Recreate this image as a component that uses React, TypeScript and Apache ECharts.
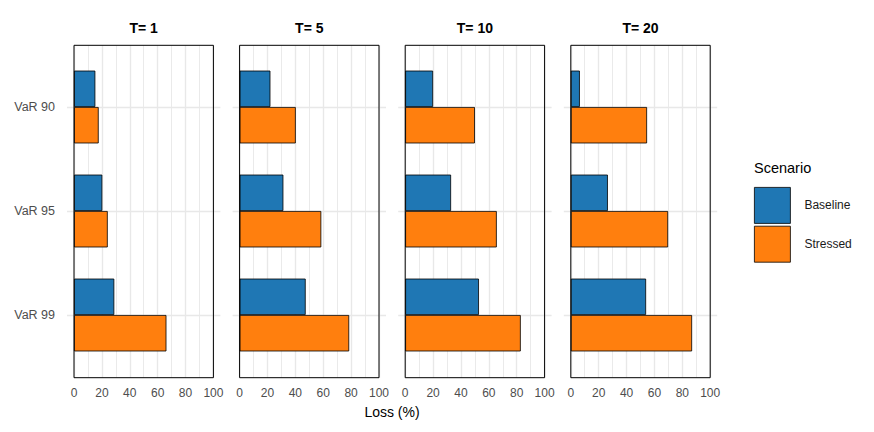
import React, { useEffect, useRef } from "react";
import * as echarts from "echarts";

const categories = ["VaR 90", "VaR 95", "VaR 99"];
const horizons = ["T= 1", "T= 5", "T= 10", "T= 20"];
const seriesNames = ["Baseline", "Stressed"];
const baselineT1 = [15.3, 20.3, 28.9];
const stressedT1 = [17.7, 24.2, 66.3];
const baselineT5 = [22.1, 31.4, 47.4];
const stressedT5 = [40.3, 58.6, 78.6];
const baselineT10 = [20.0, 32.9, 52.9];
const stressedT10 = [50.0, 65.7, 82.9];
const baselineT20 = [6.5, 26.6, 54.0];
const stressedT20 = [54.7, 69.8, 87.0];
const xTicks = [0, 20, 40, 60, 80, 100];

const baselineByPanel = [baselineT1, baselineT5, baselineT10, baselineT20];
const stressedByPanel = [stressedT1, stressedT5, stressedT10, stressedT20];

const FONT = "Liberation Sans";
const BLUE = "#1f77b4";
const ORANGE = "#ff7f0e";
const GRIDC = "#e8e8e8";

export default function App() {
  const ref = useRef<HTMLDivElement>(null);
  useEffect(() => {
    if (!ref.current) return;
    const chart = echarts.init(ref.current, undefined, { renderer: "svg" });
    const panelLeft0 = 74;
    const panelStep = 165.6;
    const panelW = 139.4;
    const outerTop = 45.3;
    const outerH = 332.4;
    const innerTop = 107;
    const innerH = 208;
    const ext = 7;
    const extUnits = (ext / panelW) * 100;

    const grids: any[] = [];
    const xAxes: any[] = [];
    const yAxes: any[] = [];
    const series: any[] = [];
    const titles: any[] = [];

    horizons.forEach((h, i) => {
      const left = panelLeft0 + i * panelStep;
      grids.push({
        left,
        top: outerTop,
        width: panelW,
        height: outerH,
        show: true,
        borderColor: "#000",
        borderWidth: 1,
        backgroundColor: "transparent",
        z: 10,
      });
      xAxes.push({
        type: "value",
        gridIndex: 2 * i,
        min: xTicks[0],
        max: xTicks[xTicks.length - 1],
        interval: 20,
        axisLine: { show: false },
        axisTick: { show: false },
        axisLabel: {
          color: "#4d4d4d",
          fontSize: 12,
          fontFamily: FONT,
          margin: 9,
          showMinLabel: true,
          showMaxLabel: true,
        },
        splitLine: { show: true, lineStyle: { color: GRIDC, width: 1.4 } },
        minorTick: { show: false, splitNumber: 2 },
        minorSplitLine: { show: true, lineStyle: { color: GRIDC, width: 0.9 } },
      });
      yAxes.push({ type: "value", gridIndex: 2 * i, show: false, min: 0, max: 1 });

      grids.push({
        left: left - ext,
        top: innerTop,
        width: panelW + 2 * ext,
        height: innerH,
        show: false,
      });
      xAxes.push({
        type: "value",
        gridIndex: 2 * i + 1,
        min: -extUnits,
        max: 100 + extUnits,
        show: false,
      });
      yAxes.push({
        type: "category",
        gridIndex: 2 * i + 1,
        data: categories,
        inverse: true,
        boundaryGap: false,
        axisLine: { show: false },
        axisTick: { show: false },
        axisLabel: {
          show: i === 0,
          color: "#4d4d4d",
          fontSize: 12.5,
          fontFamily: FONT,
          margin: 12,
          interval: 0,
        },
        splitLine: { show: true, interval: 0, lineStyle: { color: GRIDC, width: 1.4 } },
      });

      const sets = [baselineByPanel[i], stressedByPanel[i]];
      sets.forEach((vals, s) => {
        series.push({
          type: "bar",
          name: seriesNames[s],
          xAxisIndex: 2 * i + 1,
          yAxisIndex: 2 * i + 1,
          data: vals,
          barWidth: "35%",
          barGap: "0%",
          clip: false,
          itemStyle: {
            color: s === 0 ? BLUE : ORANGE,
            borderColor: "#000",
            borderWidth: 0.8,
          },
        });
      });

      titles.push({
        text: h,
        left: left + panelW / 2,
        top: 21,
        padding: 0,
        textAlign: "center",
        textStyle: { fontFamily: FONT, fontSize: 14, fontWeight: "bold", color: "#000" },
      });
    });

    titles.push({
      text: "Loss (%)",
      left: 392,
      top: 405,
      padding: 0,
      textAlign: "center",
      textStyle: { fontFamily: FONT, fontSize: 14, fontWeight: "normal", color: "#000" },
    });
    titles.push({
      text: "Scenario",
      left: 754,
      top: 160,
      padding: 0,
      textStyle: { fontFamily: FONT, fontSize: 14.5, fontWeight: "normal", color: "#000" },
    });

    chart.setOption({
      animation: false,
      backgroundColor: "#fff",
      title: titles,
      grid: grids,
      xAxis: xAxes,
      yAxis: yAxes,
      series,
      legend: {
        data: seriesNames,
        orient: "vertical",
        left: 754,
        top: 187,
        padding: 0,
        itemWidth: 36,
        itemHeight: 36,
        itemGap: 2,
        icon: "rect",
        itemStyle: { borderColor: "#000", borderWidth: 0.8 },
        textStyle: {
          fontFamily: FONT,
          fontSize: 12,
          color: "#1a1a1a",
          padding: [0, 0, 0, 9],
        },
        selectedMode: false,
      },
    });
    return () => chart.dispose();
  }, []);
  return (
    <div
      ref={ref}
      style={{ position: "fixed", left: 0, top: 0, width: 874, height: 432 }}
    />
  );
}
